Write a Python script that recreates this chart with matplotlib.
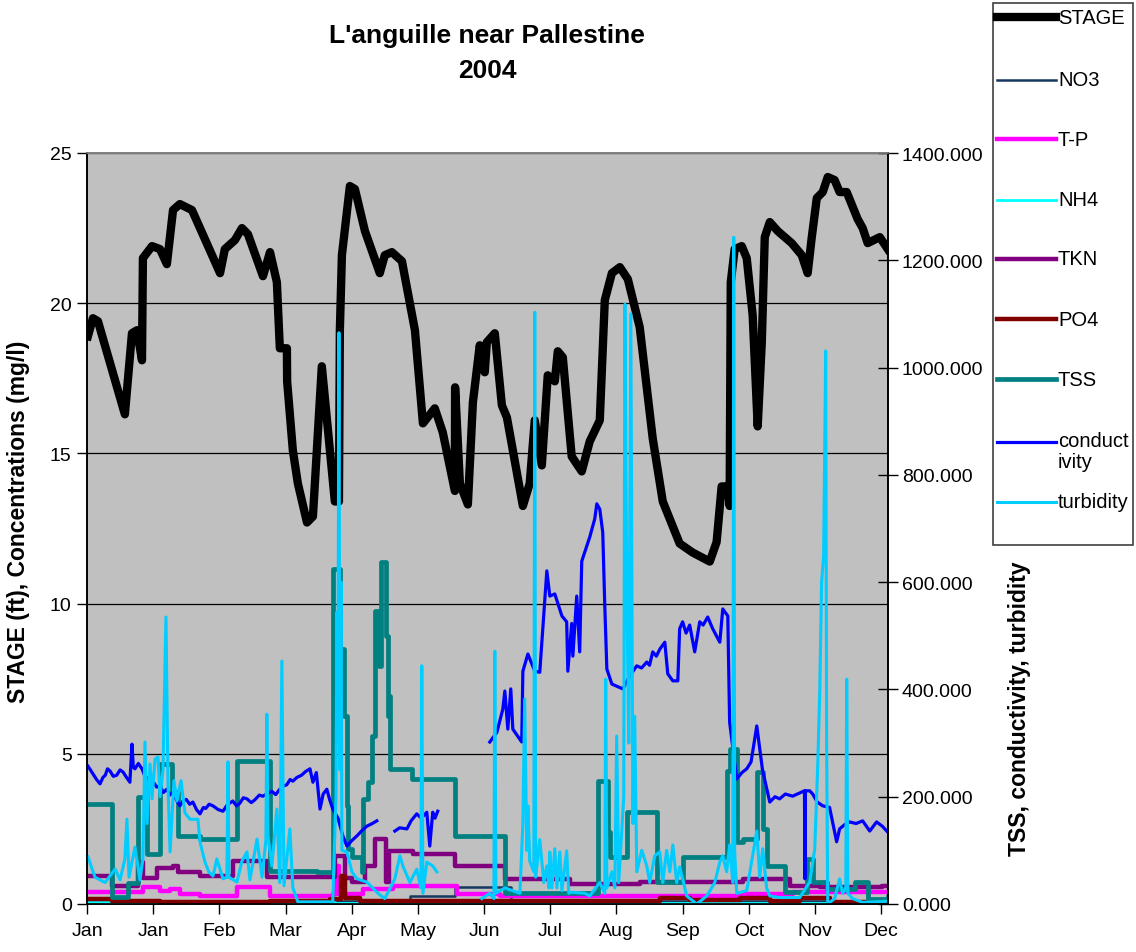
import numpy as np
import matplotlib
matplotlib.use('Agg')
import matplotlib.pyplot as plt
from matplotlib.lines import Line2D
from matplotlib.patches import Rectangle

plt.rcParams['font.family'] = ['Liberation Sans', 'DejaVu Sans']

# ---------------- data (x = day from start of 2004) ----------------
month_labels = ['Jan', 'Jan', 'Feb', 'Mar', 'Apr', 'May', 'Jun', 'Jul',
                'Aug', 'Sep', 'Oct', 'Nov', 'Dec']
tick_step_days = 29
x_end = 351

stage = [(0.4, 18.9), (2.6, 19.5), (4.8, 19.4), (16.6, 16.3), (19.7, 19.0), (21.9, 19.1),
         (24.1, 18.1), (24.5, 21.5), (28.5, 21.9), (32.0, 21.8), (35.0, 21.3), (37.7, 23.1),
         (40.7, 23.3), (46.0, 23.1), (58.3, 21.0), (60.4, 21.8), (64.8, 22.1), (67.9, 22.5),
         (70.5, 22.3), (77.1, 20.9), (80.2, 21.7), (83.2, 20.7), (84.5, 18.5), (87.6, 18.5),
         (87.7, 17.4), (90.2, 15.1), (92.4, 14.0), (96.4, 12.7), (99.0, 12.9), (102.9, 17.9),
         (108.6, 13.4), (110.4, 13.4), (110.8, 19.1), (111.7, 21.6), (115.2, 23.9), (117.4, 23.8),
         (121.8, 22.4), (128.3, 21.0), (130.5, 21.6), (133.6, 21.7), (138.0, 21.4), (143.7, 19.1),
         (147.2, 16.0), (152.4, 16.5), (155.9, 15.7), (161.2, 13.75), (161.3, 17.2), (163.4, 14.0),
         (166.9, 13.3), (169.1, 16.7), (172.1, 18.6), (174.3, 17.7), (175.2, 18.7), (178.7, 19.0),
         (181.8, 16.6), (184.0, 16.2), (191.0, 13.25), (194.0, 14.0), (196.2, 16.1), (199.3, 14.6),
         (201.9, 17.6), (205.0, 17.4), (206.3, 18.4), (208.5, 18.2), (212.4, 14.9), (216.8, 14.4),
         (220.3, 15.4), (224.7, 16.1), (226.9, 20.1), (230.0, 21.0), (233.5, 21.2), (237.0, 20.8),
         (242.2, 19.2), (247.9, 15.5), (252.3, 13.4), (259.7, 12.0), (265.4, 11.7), (272.9, 11.4),
         (275.9, 12.05), (278.1, 13.9), (280.8, 13.9), (281.6, 13.25), (282.1, 20.7), (283.8, 21.8),
         (286.9, 21.9), (289.1, 21.5), (291.7, 19.6), (293.9, 15.9), (295.7, 18.7), (297.0, 22.2),
         (299.2, 22.7), (302.7, 22.4), (308.8, 22.0), (313.2, 21.6), (315.8, 21.0), (317.6, 22.2),
         (319.8, 23.5), (322.4, 23.7), (324.6, 24.2), (327.6, 24.1), (329.8, 23.7), (332.9, 23.7),
         (337.7, 22.8), (339.9, 22.5), (342.1, 22.0), (347.4, 22.2), (350.9, 21.8)]

no3 = [(0, 0.1), (110.8, 0.1), (141.5, 0.25), (161.2, 0.55), (185.7, 0.1), (350.9, 0.1)]

tp = [(0, 0.4), (24.5, 0.57), (32.0, 0.43), (36.4, 0.5), (40.7, 0.33), (49.5, 0.27),
      (65.7, 0.57), (80.2, 0.27), (107.7, 0.33), (109.1, 1.27), (110.4, 0.33), (120.9, 0.5),
      (134.0, 0.6), (162.1, 0.33), (180.9, 0.27), (287.3, 0.33), (309.2, 0.4), (350.9, 0.4)]

nh4 = [(0, 0.05), (11.0, 0.02), (80.2, 0.05), (108.6, 0.02), (121.8, 0.05), (161.2, 0.03),
       (207.2, 0.05), (229.1, 0.02), (350.9, 0.02)]

tkn = [(0, 0.93), (11.0, 0.6), (22.3, 1.4), (24.5, 0.85), (30.7, 1.2), (37.7, 1.27),
       (39.9, 1.07), (49.5, 0.93), (63.9, 1.43), (78.8, 0.9), (108.6, 1.6), (113.0, 0.85),
       (116.1, 0.73), (121.8, 1.27), (126.1, 2.17), (131.0, 0.73), (132.3, 1.77), (142.8, 1.67),
       (161.2, 1.25), (183.1, 0.83), (211.6, 0.67), (242.2, 0.73), (287.3, 0.83), (307.9, 0.6),
       (321.1, 0.55), (348.2, 0.6), (350.9, 0.6)]

po4 = [(0, 0.17), (11.0, 0.1), (32.0, 0.07), (80.2, 0.1), (106.4, 0.17), (111.3, 0.93),
       (113.0, 0.2), (119.6, 0.1), (180.9, 0.1), (251.0, 0.2), (264.1, 0.13), (286.0, 0.2),
       (299.2, 0.1), (312.3, 0.2), (325.4, 0.07), (350.9, 0.07)]

tss = [(0, 186), (11.0, 13), (18.0, 40), (22.3, 200), (26.3, 93), (32.0, 261), (37.2, 209),
       (39.9, 127), (49.5, 121), (65.7, 267), (80.2, 62), (100.7, 60), (107.7, 624), (110.8, 475),
       (112.6, 350), (113.9, 183), (114.3, 103), (116.1, 88), (120.5, 60), (120.9, 196),
       (123.1, 227), (124.8, 313), (126.1, 546), (127.9, 444), (128.8, 637), (131.0, 500),
       (131.8, 350), (132.3, 388), (132.7, 252), (142.4, 233), (161.2, 127), (183.1, 20),
       (223.8, 229), (228.2, 134), (229.1, 88), (236.5, 171), (249.7, 41), (261.0, 88),
       (280.3, 248), (281.6, 289), (284.7, 116), (287.3, 121), (293.5, 246), (296.1, 140),
       (297.8, 71), (305.7, 22), (315.4, 84), (318.0, 41), (324.1, 28), (336.4, 41),
       (342.1, 9), (350.9, 13)]

conductivity = [(0.4, 257), (1.5, 250), (3.0, 240), (4.2, 232), (5.7, 224), (7.0, 236),
                (8.0, 240), (9.0, 252), (10.1, 248), (11.5, 238), (13.0, 240), (14.5, 250),
                (15.8, 246), (17.0, 238), (18.8, 227), (19.7, 298), (20.3, 255), (21.0, 252),
                (22.5, 262), (24.1, 252), (25.2, 240), (26.3, 235), (27.5, 222), (29.0, 228),
                (30.5, 218), (32.0, 220), (33.5, 208), (35.0, 214), (36.3, 203), (37.7, 209),
                (39.0, 195), (40.7, 183), (42.0, 192), (43.5, 195), (45.0, 186), (46.4, 190),
                (48.0, 176), (49.5, 168), (51.0, 180), (52.0, 178), (53.5, 186), (55.2, 183),
                (57.5, 176), (59.6, 173), (61.5, 185), (63.9, 192), (65.5, 183), (67.0, 188),
                (68.5, 198), (70.1, 196), (72.0, 189), (73.5, 194), (75.5, 203), (77.1, 201),
                (79.0, 206), (81.0, 210), (82.7, 204), (84.5, 214), (86.0, 220), (87.5, 222),
                (89.0, 232), (90.2, 229), (92.0, 236), (94.0, 240), (95.8, 247), (97.7, 252),
                (99.0, 227), (100.5, 245), (102.1, 177), (103.5, 205), (105.1, 214),
                (106.3, 195), (107.7, 177), (110.0, 160), (112.1, 127), (113.9, 108),
                (116.0, 118), (118.3, 127), (120.5, 137), (122.6, 145), (125.0, 150),
                (127.0, 155), (130.0, None),
                (134.9, 136), (137.0, 142), (140.2, 140), (142.0, 155), (144.5, 168),
                (146.5, 160), (148.9, 171), (150.2, 108), (151.5, 171), (152.5, 160),
                (153.7, 173), (160.0, None),
                (176.5, 302), (179.6, 320), (182.2, 363), (183.1, 397), (184.4, 326),
                (185.7, 401), (186.6, 326), (190.5, 302), (191.0, 434), (193.2, 466),
                (196.2, 434), (198.4, 432), (200.6, 568), (201.5, 621), (202.8, 574),
                (205.0, 578), (208.1, 537), (210.2, 526), (210.7, 434), (212.4, 523),
                (212.9, 462), (214.6, 574), (215.9, 470), (216.8, 639), (219.0, 667),
                (220.3, 684), (222.5, 718), (223.4, 746), (224.7, 736), (226.0, 693),
                (226.9, 555), (227.8, 438), (230.0, 410), (234.8, 401), (237.8, 425),
                (240.9, 444), (243.0, 440), (245.3, 451), (246.5, 445), (247.9, 470),
                (249.5, 462), (251.0, 475), (253.2, 488), (254.5, 429), (256.7, 416),
                (258.9, 416), (259.7, 513), (261.0, 526), (262.5, 505), (264.1, 520),
                (266.3, 470), (268.5, 526), (270.0, 520), (272.0, 535), (274.2, 513),
                (277.3, 488), (278.6, 550), (280.8, 537), (281.6, 339), (284.7, 233),
                (287.0, 245), (289.1, 252), (291.0, 265), (293.5, 332), (296.0, 250),
                (299.2, 190), (301.5, 200), (303.5, 196), (306.0, 205), (309.2, 201),
                (314.4, 211), (314.6, 47), (314.8, 211), (316.7, 211), (318.0, 205),
                (320.0, 190), (322.4, 183), (325.4, 180), (328.5, 116), (329.8, 140),
                (332.0, 148), (334.2, 153), (337.0, 150), (339.9, 155), (343.0, 136),
                (346.0, 153), (348.5, 145), (350.9, 134)]

turbidity = [(0.4, 88), (3.5, 50), (7.9, 40), (12.3, 65), (14.5, 45), (16.6, 84), (17.5, 158),
             (18.4, 50), (21.0, 106), (23.2, 45), (24.5, 84), (25.4, 302), (26.3, 150),
             (27.6, 261), (28.5, 196), (29.8, 270), (31.1, 274), (32.0, 200), (33.3, 250),
             (34.6, 535), (35.5, 220), (36.4, 97), (38.1, 230), (39.4, 192), (41.2, 230),
             (42.9, 170), (45.1, 158), (48.6, 158), (49.5, 116), (51.7, 78), (53.4, 60),
             (55.2, 52), (56.9, 84), (59.6, 47), (61.3, 50), (61.8, 265), (62.2, 50),
             (65.7, 41), (67.9, 80), (70.1, 97), (71.4, 45), (74.5, 121), (76.7, 50),
             (78.4, 120), (78.8, 354), (79.3, 127), (81.0, 71), (83.2, 177), (84.5, 40),
             (85.4, 453), (86.3, 34), (88.9, 140), (90.2, 30), (92.4, 4), (107.7, 4),
             (109.1, 200), (109.5, 544), (109.9, 300), (110.4, 1065), (110.8, 250),
             (111.3, 600), (111.7, 100), (113.9, 97), (116.1, 60), (118.3, 47), (122.6, 41),
             (127.5, 20), (130.5, 10), (134.9, 47), (137.1, 90), (138.4, 71), (141.5, 40),
             (144.5, 65), (146.3, 30), (146.7, 444), (147.2, 20), (148.9, 78), (151.5, 71),
             (153.3, 60), (160.0, None),
             (173.0, 10), (176.5, 20), (178.3, 10), (178.7, 471), (179.2, 20), (183.1, 30),
             (189.7, 20), (191.0, 150), (191.8, 382), (192.7, 100), (193.2, 183), (194.0, 80),
             (195.8, 60), (196.2, 1103), (196.6, 50), (198.4, 120), (200.2, 40), (201.5, 71),
             (202.4, 30), (202.8, 97), (203.7, 30), (205.0, 103), (205.9, 30), (207.2, 97),
             (208.1, 25), (210.2, 99), (211.1, 20), (212.4, 22), (218.1, 20), (220.3, 15),
             (224.7, 40), (226.9, 20), (227.3, 419), (227.8, 30), (230.0, 60), (231.3, 30),
             (232.1, 313), (233.0, 40), (235.2, 200), (235.7, 1118), (236.5, 600),
             (237.4, 300), (238.3, 1100), (239.2, 150), (240.0, 350), (240.9, 60),
             (243.1, 100), (245.3, 71), (246.6, 40), (248.8, 90), (251.0, 97), (252.3, 40),
             (254.0, 100), (255.4, 60), (256.7, 110), (258.4, 40), (259.7, 69), (262.8, 15),
             (267.2, 0), (271.6, 15), (275.1, 40), (277.3, 78), (278.6, 90), (280.3, 60),
             (281.6, 110), (283.0, 40), (283.4, 1243), (283.8, 100), (284.7, 20),
             (289.1, 25), (291.7, 90), (293.5, 136), (294.8, 50), (296.1, 103), (297.8, 30),
             (299.2, 15), (303.5, 12), (312.3, 12), (316.7, 41), (318.9, 103), (320.2, 257),
             (321.1, 395), (321.9, 600), (322.8, 650), (323.7, 1031), (324.1, 300),
             (324.6, 0), (327.6, 10), (329.8, 47), (331.1, 20), (332.5, 30), (332.9, 419),
             (333.4, 20), (335.5, 10), (339.9, 3), (350.9, 5)]


def xy(pairs):
    x = np.array([p[0] for p in pairs], dtype=float)
    y = np.array([np.nan if p[1] is None else p[1] for p in pairs], dtype=float)
    return x, y


# ---------------- figure ----------------
W, H = 1136, 953
fig = plt.figure(figsize=(W / 100, H / 100), dpi=100)
fig.patch.set_facecolor('white')

L, R, B, T = 87, 888, 905, 154
ax = fig.add_axes([L / W, 1 - B / H, (R - L) / W, (B - T) / H])
ax.set_facecolor('#C0C0C0')
ax2 = ax.twinx()

styles = {
    'STAGE': dict(color='black', lw=6.0),
    'NO3': dict(color='#17375E', lw=1.8),
    'T-P': dict(color='#FF00FF', lw=3.2),
    'NH4': dict(color='#00FFFF', lw=2.0),
    'TKN': dict(color='#800080', lw=3.2),
    'PO4': dict(color='#800000', lw=3.2),
    'TSS': dict(color='#008080', lw=3.4),
    'conductivity': dict(color='#0000FF', lw=2.3),
    'turbidity': dict(color='#00CCFF', lw=2.2),
}

ax.plot(*xy(stage), solid_joinstyle='round', **styles['STAGE'], zorder=3)
ax.plot(*xy(no3), drawstyle='steps-post', **styles['NO3'], zorder=3)
ax.plot(*xy(tp), drawstyle='steps-post', **styles['T-P'], zorder=3)
ax.plot(*xy(nh4), drawstyle='steps-post', **styles['NH4'], zorder=3)
ax.plot(*xy(tkn), drawstyle='steps-post', **styles['TKN'], zorder=3)
ax.plot(*xy(po4), drawstyle='steps-post', **styles['PO4'], zorder=3)

ax2.plot(*xy(tss), drawstyle='steps-post', **styles['TSS'])
ax2.plot(*xy(conductivity), **styles['conductivity'])
ax2.plot(*xy(turbidity), **styles['turbidity'])

ax.set_xlim(0, x_end)
ax.set_ylim(0, 25)
ax2.set_ylim(0, 1400)

ax.set_xticks(np.arange(len(month_labels)) * tick_step_days)
ax.set_xticklabels(month_labels)
ax.set_yticks(np.arange(0, 26, 5))
ax2.set_yticks(np.arange(0, 1401, 200))
ax2.set_yticklabels([f'{v:.3f}' for v in np.arange(0, 1401, 200)])

ax.yaxis.grid(True, color='black', lw=0.9)
ax.set_axisbelow(True)

ax.tick_params(axis='x', direction='out', length=7, width=1, labelsize=14, pad=6)
ax.tick_params(axis='y', direction='out', length=7, width=1, labelsize=14, pad=4)
ax2.tick_params(axis='y', direction='inout', length=14, width=1, labelsize=14, pad=3)

for a in (ax, ax2):
    a.spines['top'].set_color('#808080')
    a.spines['left'].set_color('black')
    a.spines['right'].set_color('black')
    a.spines['bottom'].set_color('black')
    for s in a.spines.values():
        s.set_linewidth(1.2)

ax.set_ylabel('STAGE (ft), Concentrations (mg/l)', fontsize=16.5, fontweight='bold')
ax.yaxis.set_label_coords(-0.071, 0.51)
ax2.set_ylabel('TSS, conductivity, turbidity', fontsize=16.5, fontweight='bold', rotation=90)
ax2.yaxis.set_label_coords(1.150, 0.262)

fig.text(487 / W, 1 - 36 / H, "L'anguille near Pallestine", ha='center', va='center',
         fontsize=19, fontweight='bold')
fig.text(487 / W, 1 - 71 / H, '2004', ha='center', va='center',
         fontsize=19, fontweight='bold')

# ---------------- legend ----------------
fig.add_artist(Rectangle((993 / W, 1 - 546 / H), (1133 - 993) / W, (546 - 4) / H,
                         transform=fig.transFigure, facecolor='white',
                         edgecolor='#404040', lw=1.2))
legend_entries = [('STAGE', 'STAGE', 18), ('NO3', 'NO3', 81), ('T-P', 'T-P', 140),
                  ('NH4', 'NH4', 201), ('TKN', 'TKN', 260), ('PO4', 'PO4', 320),
                  ('TSS', 'TSS', 380), ('conductivity', 'conduct\nivity', 443),
                  ('turbidity', 'turbidity', 503)]
for key, label, ypx in legend_entries:
    st = styles[key]
    fig.add_artist(Line2D([997 / W, 1056 / W], [1 - ypx / H, 1 - ypx / H],
                          transform=fig.transFigure, color=st['color'], lw=st['lw']))
    if '\n' in label:
        fig.text(1058 / W, 1 - (ypx - 11) / H, label, ha='left', va='top',
                 fontsize=14.5, linespacing=1.15)
    else:
        fig.text(1058 / W, 1 - ypx / H, label, ha='left', va='center', fontsize=14.5)

fig.savefig('out.png', dpi=100, facecolor='white')
